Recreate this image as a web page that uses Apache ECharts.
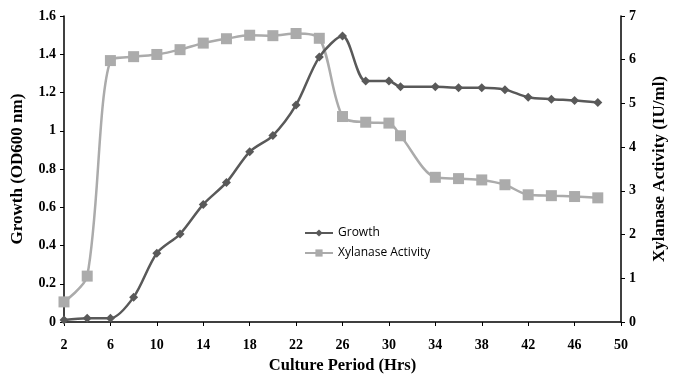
<!DOCTYPE html>
<html><head><meta charset="utf-8">
<script src="https://cdn.jsdelivr.net/npm/echarts@6/dist/echarts.min.js"></script>
<style>html,body{margin:0;padding:0;background:#fff}#c{width:680px;height:381px}</style>
</head><body><div id="c"></div>
<script>
var hours = [2,4,6,8,10,12,14,16,18,20,22,24,26,28,30,31,34,36,38,40,42,44,46,48];
var growth = [0.01,0.02,0.02,0.13,0.36,0.46,0.615,0.73,0.89,0.975,1.135,1.385,1.495,1.26,1.26,1.23,1.23,1.225,1.225,1.215,1.175,1.165,1.158,1.148];
var xylanase = [0.46,1.05,5.98,6.07,6.12,6.23,6.38,6.48,6.56,6.55,6.6,6.49,4.7,4.57,4.55,4.26,3.31,3.28,3.25,3.14,2.91,2.89,2.87,2.84];
var xTicks = {min:2, max:50, step:4};
var yLeft = {min:0, max:1.6, step:0.2};
var yRight = {min:0, max:7, step:1};

var serif = '"Liberation Serif","Times New Roman",serif';
var axisLab = {color:'#000', fontFamily:serif, fontWeight:'bold', fontSize:14};
var nameSt = {color:'#000', fontFamily:serif, fontWeight:'bold', fontSize:17};
var line = {lineStyle:{color:'#000', width:1.5}};

var chart = echarts.init(document.getElementById('c'), null, {renderer:'canvas'});
chart.setOption({
  animation:false,
  backgroundColor:'#fff',
  grid:{left:64, right:59, top:16, bottom:59, containLabel:false},
  legend:{
    orient:'vertical', left:299, top:222, itemGap:8, itemWidth:28, itemHeight:9,
    textStyle:{fontFamily:'"Open Sans","DejaVu Sans",sans-serif', fontSize:12, color:'#000'},
    data:['Growth','Xylanase Activity']
  },
  xAxis:{
    type:'value', min:xTicks.min, max:xTicks.max, interval:xTicks.step,
    name:'Culture Period (Hrs)', nameLocation:'middle', nameGap:33, nameTextStyle:Object.assign({}, nameSt, {fontSize:16.5}),
    axisLine:line, axisTick:{show:true, length:4, lineStyle:{color:'#000'}},
    axisLabel:Object.assign({margin:16}, axisLab), splitLine:{show:false}
  },
  yAxis:[{
    type:'value', min:yLeft.min, max:yLeft.max, interval:yLeft.step,
    name:'Growth (OD600 nm)', nameLocation:'middle', nameGap:38, nameRotate:90, nameTextStyle:nameSt,
    axisLine:Object.assign({show:true}, line), axisTick:{show:true, length:4, lineStyle:{color:'#000'}},
    axisLabel:Object.assign({margin:8, formatter:function(v){return String(+v.toFixed(1));}}, axisLab), splitLine:{show:false}
  },{
    type:'value', min:yRight.min, max:yRight.max, interval:yRight.step, position:'right',
    name:'Xylanase Activity (IU/ml)', nameLocation:'middle', nameGap:30, nameRotate:90, nameTextStyle:nameSt,
    axisLine:Object.assign({show:true}, line), axisTick:{show:true, length:4, lineStyle:{color:'#000'}},
    axisLabel:Object.assign({margin:8}, axisLab), splitLine:{show:false}
  }],
  series:[{
    name:'Growth', type:'line', yAxisIndex:0, smooth:0.3,
    data:hours.map(function(h,i){return [h, growth[i]];}),
    symbol:'diamond', symbolSize:9, showAllSymbol:true,
    itemStyle:{color:'#595959'}, lineStyle:{color:'#595959', width:2.5}, z:3
  },{
    name:'Xylanase Activity', type:'line', yAxisIndex:1, smooth:0.3,
    data:hours.map(function(h,i){return [h, xylanase[i]];}),
    symbol:'rect', symbolSize:11, showAllSymbol:true,
    itemStyle:{color:'#ababab'}, lineStyle:{color:'#ababab', width:2.5}, z:2
  }]
});
</script></body></html>
